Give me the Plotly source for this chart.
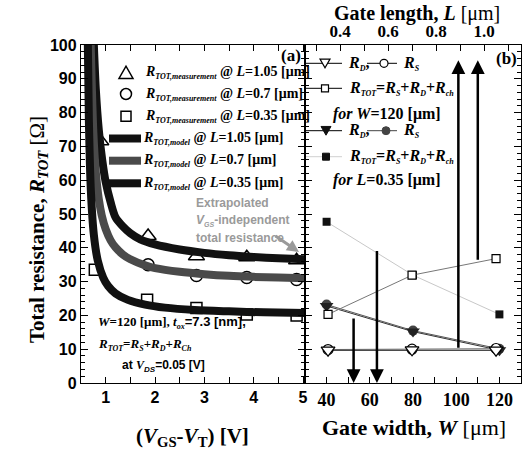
import plotly.graph_objects as go

W_PX, H_PX = 524, 454
def px(x):
    return x / W_PX
def py(y):
    return 1 - y / H_PX

SERIF = "Liberation Serif"
SANS = "Liberation Sans"

# ---------------- Panel (a): R_TOT vs (VGS-VT) ----------------
vgs_meas_105 = [0.9, 1.86, 2.84, 3.86, 4.87]
r_meas_105 = [71.5, 43.5, 37.5, 37.2, 36.3]
vgs_meas_07 = [1.86, 2.84, 3.86, 4.87]
r_meas_07 = [35.0, 31.8, 31.2, 30.6]
vgs_meas_035 = [0.78, 1.84, 2.84, 3.86, 4.87]
r_meas_035 = [33.5, 24.6, 22.2, 20.3, 20.0]

vgs_model_105 = [0.75, 0.80, 0.86, 0.93, 1.0, 1.1, 1.2, 1.35, 1.5, 1.7, 2.0, 2.5, 3.0, 3.5, 4.0, 4.5, 5.04]
r_model_105 = [104, 87, 75, 66, 59.5, 53.5, 49.0, 46.3, 44.3, 42.5, 41.0, 39.5, 38.5, 37.8, 37.3, 36.9, 36.6]
vgs_model_07 = [0.69, 0.75, 0.80, 0.86, 0.92, 1.0, 1.1, 1.2, 1.35, 1.5, 1.8, 2.0, 2.5, 3.0, 3.5, 4.0, 4.5, 5.04]
r_model_07 = [104, 74.3, 62.4, 54.5, 49.6, 45.5, 42.2, 40.1, 38.0, 36.6, 34.8, 34.0, 32.9, 32.2, 31.7, 31.4, 31.2, 31.0]
vgs_model_035 = [0.635, 0.66, 0.70, 0.76, 0.84, 0.95, 1.05, 1.2, 1.45, 1.8, 2.2, 2.8, 3.5, 4.2, 5.04]
r_model_035 = [104, 77.4, 56.8, 43.9, 36.2, 31.2, 28.7, 26.5, 24.6, 23.2, 22.3, 21.6, 21.2, 20.9, 20.7]

# ---------------- Panel (b) ----------------
# open symbols: vs gate length L, for W = 120 um
L_um = [0.35, 0.7, 1.05]
rd_vs_L = [9.7, 9.8, 9.7]
rs_vs_L = [9.9, 10.0, 10.2]
rtot_vs_L = [20.3, 31.9, 36.8]
# filled symbols: vs gate width W, for L = 0.35 um
W_um = [40, 80, 120]
rd_vs_W = [22.8, 15.2, 9.7]
rs_vs_W = [23.2, 15.5, 10.1]
rtot_vs_W = [47.7, 31.9, 20.3]

# arrows (tail -> head) in panel (b) data units
up_arrow_w = [101, 110]
up_arrow_from = [10, 36]
up_arrow_to = 95.5
down_arrow_w = [52.5, 63.3]
down_arrow_from = [19.5, 39.5]
down_arrow_to = 0

fig = go.Figure()

# measurement markers (drawn under the model curves)
fig.add_trace(go.Scatter(x=vgs_meas_105, y=r_meas_105, mode="markers", xaxis="x", yaxis="y",
                         marker=dict(symbol="triangle-up", size=14, color="white",
                                     line=dict(color="black", width=1.5))))
fig.add_trace(go.Scatter(x=vgs_meas_07, y=r_meas_07, mode="markers", xaxis="x", yaxis="y",
                         marker=dict(symbol="circle", size=12, color="white",
                                     line=dict(color="black", width=1.5))))
fig.add_trace(go.Scatter(x=vgs_meas_035, y=r_meas_035, mode="markers", xaxis="x", yaxis="y",
                         marker=dict(symbol="square", size=11, color="white",
                                     line=dict(color="black", width=1.5))))
# model curves
fig.add_trace(go.Scatter(x=vgs_model_105, y=r_model_105, mode="lines", xaxis="x", yaxis="y",
                         line=dict(color="#111111", width=8, shape="spline", smoothing=0.8)))
fig.add_trace(go.Scatter(x=vgs_model_07, y=r_model_07, mode="lines", xaxis="x", yaxis="y",
                         line=dict(color="#4a4a4a", width=8, shape="spline", smoothing=0.8)))
fig.add_trace(go.Scatter(x=vgs_model_035, y=r_model_035, mode="lines", xaxis="x", yaxis="y",
                         line=dict(color="#111111", width=8, shape="spline", smoothing=0.8)))

# panel (b) filled (vs W)
fig.add_trace(go.Scatter(x=W_um, y=rtot_vs_W, mode="lines+markers", xaxis="x2", yaxis="y2",
                         line=dict(color="#c8c8c8", width=1),
                         marker=dict(symbol="square", size=8, color="#111111")))
fig.add_trace(go.Scatter(x=W_um, y=rs_vs_W, mode="lines+markers", xaxis="x2", yaxis="y2",
                         line=dict(color="#555555", width=1),
                         marker=dict(symbol="circle", size=10, color="#444444")))
fig.add_trace(go.Scatter(x=W_um, y=rd_vs_W, mode="lines+markers", xaxis="x2", yaxis="y2",
                         line=dict(color="#333333", width=1),
                         marker=dict(symbol="triangle-down", size=12, color="#222222")))
# panel (b) open (vs L)
fig.add_trace(go.Scatter(x=L_um, y=rtot_vs_L, mode="lines+markers", xaxis="x3", yaxis="y2",
                         line=dict(color="#777777", width=1),
                         marker=dict(symbol="square", size=8, color="white",
                                     line=dict(color="black", width=1.2))))
fig.add_trace(go.Scatter(x=L_um, y=rs_vs_L, mode="lines+markers", xaxis="x3", yaxis="y2",
                         line=dict(color="#888888", width=1),
                         marker=dict(symbol="circle", size=10, color="white",
                                     line=dict(color="black", width=1.2))))
fig.add_trace(go.Scatter(x=L_um, y=rd_vs_L, mode="lines+markers", xaxis="x3", yaxis="y2",
                         line=dict(color="#000000", width=1),
                         marker=dict(symbol="triangle-down", size=12, color="white",
                                     line=dict(color="black", width=1.2))))

annotations = []
shapes = []

def ann(x, y, text, size=14, family=SERIF, color="black", xanchor="left", yanchor="middle", **kw):
    annotations.append(dict(x=px(x), y=py(y), xref="paper", yref="paper", text=text,
                            showarrow=False, xanchor=xanchor, yanchor=yanchor,
                            font=dict(family=family, size=size, color=color), **kw))

def sub(t, fs=8, italic=True):
    inner = f"<i>{t}</i>" if italic else t
    return f"<sub><span style='font-size:{fs}px'>{inner}</span></sub>"

def legline(x0, x1, y, color, width):
    shapes.append(dict(type="line", xref="paper", yref="paper", x0=px(x0), x1=px(x1),
                       y0=py(y), y1=py(y), line=dict(color=color, width=width), layer="above"))

def legmark(kind, x, y, s, fill="white", line="black", lw=1.5):
    base = dict(xref="paper", yref="paper", xsizemode="pixel", ysizemode="pixel",
                xanchor=px(x), yanchor=py(y), fillcolor=fill,
                line=dict(color=line, width=lw), layer="above")
    if kind == "tri-up":
        base.update(type="path", path=f"M {-s},{-0.85*s} L {s},{-0.85*s} L 0,{0.9*s} Z")
    elif kind == "tri-down":
        base.update(type="path", path=f"M {-s},{0.85*s} L {s},{0.85*s} L 0,{-0.9*s} Z")
    elif kind == "circle":
        base.update(type="circle", x0=-s, x1=s, y0=-s, y1=s)
    elif kind == "square":
        base.update(type="rect", x0=-s, x1=s, y0=-s, y1=s)
    shapes.append(base)

# ---- legend, panel (a)
rows_a = [72.5, 94.0, 116.3, 138.5, 160.7, 183.3]
legmark("tri-up", 126, rows_a[0], 7)
legmark("circle", 126, rows_a[1], 5.5)
legmark("square", 126, rows_a[2], 5)
legline(109, 141, rows_a[3], "#111111", 8)
legline(109, 141, rows_a[4], "#4a4a4a", 8)
legline(109, 141, rows_a[5], "#111111", 8)
labels_a = [
    f"<b><i>R</i>{sub('TOT,measurement')} @ <i>L</i>=1.05 [μm]</b>",
    f"<b><i>R</i>{sub('TOT,measurement')} @ <i>L</i>=0.7 [μm]</b>",
    f"<b><i>R</i>{sub('TOT,measurement')} @ <i>L</i>=0.35 [μm]</b>",
    f"<b><i>R</i>{sub('TOT,model')} @ <i>L</i>=1.05 [μm]</b>",
    f"<b><i>R</i>{sub('TOT,model')} @ <i>L</i>=0.7 [μm]</b>",
    f"<b><i>R</i>{sub('TOT,model')} @ <i>L</i>=0.35 [μm]</b>",
]
for i, t in enumerate(labels_a):
    ann(143 if i < 3 else 141, rows_a[i], t, size=14)

ann(303, 56, "<b>(a)</b>", size=17, xanchor="right")
ann(519, 58, "<b>(b)</b>", size=17, xanchor="right")

# gray annotation
ann(194, 203, "<b>Extrapolated</b>", size=12, family=SANS, color="#9a9a9a")
ann(194, 220, f"<b><i>V</i>{sub('GS', 7)}-independent</b>", size=12, family=SANS, color="#9a9a9a")
ann(194, 238, "<b>total resistance</b>", size=12, family=SANS, color="#9a9a9a")
annotations.append(dict(x=px(299), y=py(252), xref="paper", yref="paper", text="",
                        showarrow=True, ax=-25, ay=-17, arrowhead=2, arrowsize=0.8,
                        arrowwidth=3, arrowcolor="#9a9a9a", standoff=0))

# conditions text
ann(96, 322, f"<b><i>W</i>=120 [μm], <i>t</i>{sub('ox', 8)}<span style='font-family:{SANS}'>=7.3 [nm],</span></b>", size=13)
ann(96, 344, f"<b><i>R</i>{sub('TOT')}=<i>R</i>{sub('S')}+<i>R</i>{sub('D')}+<i>R</i>{sub('Ch')}</b>", size=13)
ann(120, 366, f"<b>at <span style='font-family:{SERIF}'><i>V</i></span>{sub('DS', 8)}=0.05 [V]</b>", size=12, family=SANS)

# ---- legend, panel (b)
rows_b = [63.3, 88.3, 114.0, 130.7, 156.7, 180.5]
legline(306, 342, rows_b[0], "#000000", 1)
legmark("tri-down", 325, rows_b[0], 5, lw=1.2)
legline(367, 397, rows_b[0], "#000000", 1)
legmark("circle", 384, rows_b[0], 4, lw=1.2)
legline(306, 342, rows_b[1], "#000000", 1)
legmark("square", 325, rows_b[1], 3.5, lw=1.2)
legline(306, 342, rows_b[3], "#000000", 1)
legmark("tri-down", 326, rows_b[3], 5, fill="#111111", line="#111111", lw=1)
legline(367, 397, rows_b[3], "#444444", 1)
legmark("circle", 386, rows_b[3], 4, fill="#444444", line="#444444", lw=1)
legline(306, 342, rows_b[4], "#d0d0d0", 1)
legmark("square", 326, rows_b[4], 3.5, fill="#111111", line="#111111", lw=1)

ann(346, rows_b[0], f"<b><i>R</i>{sub('D')},</b>", size=16)
ann(401, rows_b[0], f"<b><i>R</i>{sub('S')}</b>", size=16)
ann(347, rows_b[1], f"<b><i>R</i>{sub('TOT')}=<i>R</i>{sub('S')}+<i>R</i>{sub('D')}+<i>R</i>{sub('ch')}</b>", size=16)
ann(331, rows_b[2], "<b><i>for W</i>=120 [μm]</b>", size=16)
ann(346, rows_b[3], f"<b><i>R</i>{sub('D')},</b>", size=16)
ann(401, rows_b[3], f"<b><i>R</i>{sub('S')}</b>", size=16)
ann(347, rows_b[4], f"<b><i>R</i>{sub('TOT')}=<i>R</i>{sub('S')}+<i>R</i>{sub('D')}+<i>R</i>{sub('ch')}</b>", size=16)
ann(331, rows_b[5], "<b><i>for L</i>=0.35 [μm]</b>", size=16)

# vertical arrows in panel (b)
for w, y0 in zip(up_arrow_w, up_arrow_from):
    annotations.append(dict(x=w, y=up_arrow_to, ax=w, ay=y0, xref="x2", yref="y2",
                            axref="x2", ayref="y2", text="", showarrow=True,
                            arrowhead=2, arrowsize=1.1, arrowwidth=2.5, arrowcolor="black", standoff=0))
for w, y0 in zip(down_arrow_w, down_arrow_from):
    annotations.append(dict(x=w, y=down_arrow_to, ax=w, ay=y0, xref="x2", yref="y2",
                            axref="x2", ayref="y2", text="", showarrow=True,
                            arrowhead=2, arrowsize=1.1, arrowwidth=2.5, arrowcolor="black", standoff=0))

# axis titles
ann(417, 0.5, "<b>Gate length, <i>L</i></b> [μm]", size=20, xanchor="center", yanchor="top")
ann(414, 427, "<b>Gate width, <i>W</i></b> [μm]", size=22, xanchor="center")
ann(192, 437, f"<b>(<i>V</i><sub>GS</sub>-<i>V</i><sub>T</sub>) [V]</b>", size=21, xanchor="center")
annotations.append(dict(x=px(38), y=py(230), xref="paper", yref="paper",
                        text=f"<b>Total resistance, <i>R</i><sub><i>TOT</i></sub></b> [Ω]",
                        showarrow=False, textangle=-90, xanchor="center", yanchor="middle",
                        font=dict(family=SERIF, size=21, color="black")))

ax_common = dict(showgrid=False, zeroline=False, showline=True, linecolor="black", linewidth=1.3,
                 ticks="inside", tickcolor="black", tickwidth=1.2, automargin=False)

fig.update_layout(
    width=524, height=454,
    margin=dict(l=0, r=0, t=0, b=0, pad=0, autoexpand=False),
    paper_bgcolor="white", plot_bgcolor="white",
    showlegend=False,
    xaxis=dict(domain=[px(81), px(305)], range=[0.5, 5.04], anchor="y",
               tickvals=[1, 2, 3, 4, 5], ticklen=6, mirror="allticks",
               minor=dict(tickvals=[0.5, 1.5, 2.5, 3.5, 4.5], ticks="inside", ticklen=6, tickcolor="black"),
               tickfont=dict(family=SANS, size=16, color="black", weight="bold"), **ax_common),
    yaxis=dict(domain=[py(383), py(45)], range=[0, 100], anchor="x", dtick=10, ticklen=7,
               mirror="allticks",
               minor=dict(dtick=2, ticks="inside", ticklen=4, tickcolor="black"),
               tickfont=dict(family=SANS, size=16, color="black", weight="bold"), **ax_common),
    xaxis2=dict(domain=[px(305), px(521)], range=[30, 130], anchor="y2",
                tickvals=[40, 60, 80, 100, 120], ticklen=6,
                minor=dict(tickvals=[50, 70, 90, 110, 130], ticks="inside", ticklen=6, tickcolor="black"),
                tickfont=dict(family=SERIF, size=18, color="black", weight="bold"), **ax_common),
    xaxis3=dict(overlaying="x2", side="top", anchor="y2", range=[0.254, 1.154],
                tickvals=[0.4, 0.6, 0.8, 1.0], ticktext=["0.4", "0.6", "0.8", "1.0"], ticklen=6,
                minor=dict(tickvals=[0.3, 0.5, 0.7, 0.9, 1.1], ticks="inside", ticklen=6, tickcolor="black"),
                tickfont=dict(family=SERIF, size=17, color="black", weight="bold"), **ax_common),
    yaxis2=dict(domain=[py(383), py(45)], range=[0, 100], anchor="x2", dtick=10, ticklen=7,
                mirror="ticks", showticklabels=False,
                minor=dict(dtick=2, ticks="inside", ticklen=4, tickcolor="black"), **ax_common),
    annotations=annotations,
    shapes=shapes,
)

fig.write_html("out.html", config={"displayModeBar": False},
               post_script="document.body.style.margin='0';document.body.style.padding='0';"
                           "document.body.style.overflow='hidden';")
